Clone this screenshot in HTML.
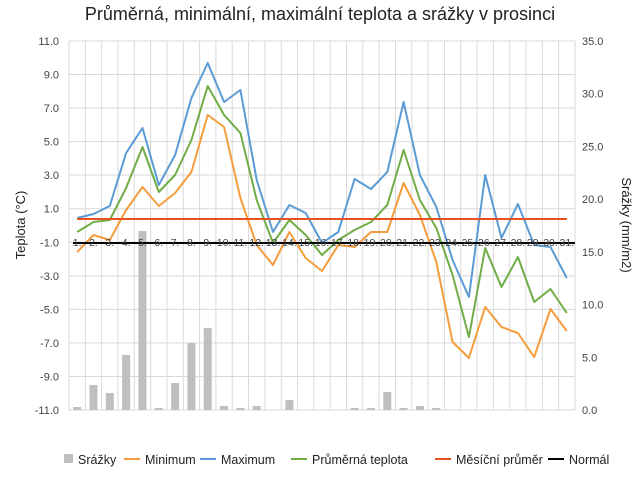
<!DOCTYPE html>
<html><head><meta charset="utf-8"><style>body{margin:0;background:#fff}svg{display:block;font-family:"Liberation Sans",sans-serif}</style></head><body>
<svg width="640" height="480" viewBox="0 0 640 480">
<text x="320" y="20" text-anchor="middle" font-size="18" fill="#222">Průměrná, minimální, maximální teplota a srážky v prosinci</text>
<g stroke="#d9d9d9" stroke-width="1" id="grid"></g>
<g id="bars" fill="#bfbfbf"></g>
<g id="lines" fill="none" stroke-width="2" stroke-linejoin="round"></g>
<g id="labels" font-size="11" fill="#444"></g>
<text transform="translate(25,225) rotate(-90)" text-anchor="middle" font-size="13" fill="#222">Teplota (°C)</text>
<text transform="translate(622,225) rotate(90)" text-anchor="middle" font-size="13" fill="#222">Srážky (mm/m2)</text>
<g font-size="12.5" fill="#222">
<rect x="64" y="454" width="9" height="9" fill="#bfbfbf"/><text x="78" y="464">Srážky</text>
<line x1="124" y1="459" x2="140" y2="459" stroke="#f59d3d" stroke-width="2"/><text x="145" y="464">Minimum</text>
<line x1="200" y1="459" x2="216" y2="459" stroke="#5b9bd5" stroke-width="2"/><text x="221" y="464">Maximum</text>
<line x1="291" y1="459" x2="307" y2="459" stroke="#70ad47" stroke-width="2"/><text x="312" y="464">Průměrná teplota</text>
<line x1="435" y1="459" x2="451" y2="459" stroke="#e8501f" stroke-width="2"/><text x="456" y="464">Měsíční průměr</text>
<line x1="548" y1="459" x2="564" y2="459" stroke="#000" stroke-width="2"/><text x="569" y="464">Normál</text>
</g>
</svg>
<script>
const NS="http://www.w3.org/2000/svg";
function el(p,t,a,txt){const e=document.createElementNS(NS,t);for(const k in a)e.setAttribute(k,a[k]);if(txt!==undefined)e.textContent=txt;document.getElementById(p).appendChild(e);}
const L=69,R=575,T=41,B=410,w=(R-L)/31;
for(let i=0;i<=11;i++){const y=T+i*(B-T)/11;el('grid','line',{x1:L,x2:R,y1:y,y2:y});
 el('labels','text',{x:59,y:y+4,'text-anchor':'end'},(11-2*i).toFixed(1));}
for(let i=0;i<=31;i++){const x=L+i*w;el('grid','line',{x1:x,x2:x,y1:T,y2:B});}
for(let i=0;i<=7;i++){const y=B-i*(B-T)/7;el('labels','text',{x:582,y:y+4},(5*i).toFixed(1));}
const cx=i=>L+w*(i+0.5);
const bars={1:407,2:385,3:393,4:355,5:231,6:408,7:383,8:343,9:328,10:406,11:408,12:406,14:400,18:408,19:408,20:392,21:408,22:406,23:408};
for(const d in bars){el('bars','rect',{x:cx(d-1)-4,y:bars[d],width:8,height:B-bars[d]});}
const mx=[218,214,206,153,128,185,155,98,63,102,90,180,232,205,213,243,232,179,189,172,102,175,207,260,297,175,238,204,245,247,278];
const av=[232,222,220,188,147,192,175,140,86,115,133,200,243,220,235,255,240,230,222,205,150,200,228,275,337,248,287,257,302,289,313];
const mn=[252,235,240,210,187,206,193,172,115,127,198,245,265,232,258,271,245,247,232,232,183,215,262,342,358,307,327,333,357,309,331];
const pts=a=>a.map((y,i)=>cx(i).toFixed(1)+','+y).join(' ');
el('lines','polyline',{points:pts(mn),stroke:'#f59d3d'});
el('lines','polyline',{points:pts(mx),stroke:'#5b9bd5'});
el('lines','polyline',{points:pts(av),stroke:'#70ad47'});
el('lines','line',{x1:cx(0),x2:cx(30),y1:219,y2:219,stroke:'#e8501f'});
for(let i=0;i<31;i++)el('labels','text',{x:cx(i),y:246,'text-anchor':'middle','font-size':'10.5'},(i+1)+'.');
el('lines','line',{x1:73,x2:R,y1:243,y2:243,stroke:'#000'});
</script>
</body></html>
